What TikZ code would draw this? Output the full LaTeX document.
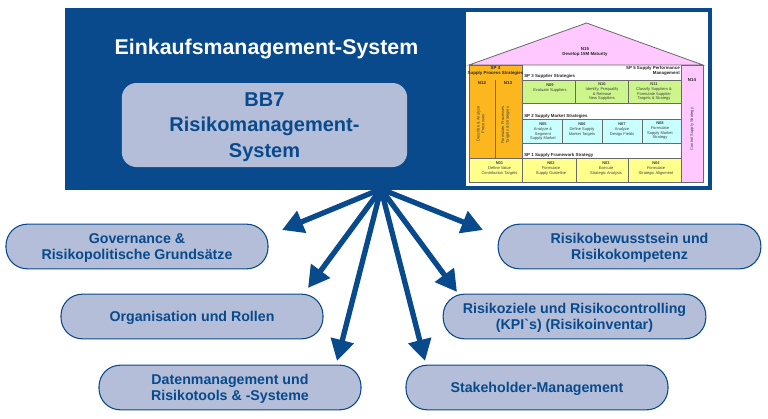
\documentclass[tikz,border=0pt]{standalone}
\usepackage{fontspec}
\setmainfont{Liberation Sans}
\newfontfamily\rawfont{Liberation Sans}
\usetikzlibrary{arrows.meta}
\definecolor{bbblue}{RGB}{8,74,140}
\definecolor{bboval}{RGB}{180,190,216}
\definecolor{hsorange}{RGB}{253,183,30}
\definecolor{hspink}{RGB}{255,200,255}
\definecolor{hsgreen}{RGB}{204,245,140}
\definecolor{hscyan}{RGB}{200,255,255}
\definecolor{hsyellow}{RGB}{255,255,140}
\definecolor{hsline}{RGB}{105,105,105}
\tikzset{
  pill/.style={draw=bbblue,line width=0.8pt,fill=bboval,rounded corners=16pt,text=bbblue,text depth=0pt,
    font=\fontsize{10.65}{12.5}\selectfont\bfseries,align=center,inner sep=0pt},
  spoke/.style={draw=bbblue,line width=4pt,-{Triangle[width=17pt,length=16pt]}},
  cell/.style={draw=hsline,line width=0.6pt},
  tinytxt/.style={font=\fontsize{3}{3.5}\selectfont,align=center,inner sep=0pt,text=black!75},
  tinyhead/.style={font=\fontsize{3.3}{3.7}\selectfont\bfseries,align=center,inner sep=0pt,text=black!85}
}
\begin{document}
\begin{tikzpicture}[x=0.75pt,y=0.75pt,yscale=-1,xscale=1]
        \useasboundingbox (0,0) rectangle (768,418);
        % Banner
        \fill [bbblue] (64.5,7.5) rectangle (712,189.5);
        \fill [white] (466,12) rectangle (708,186);
        % House
        \draw [cell,fill=hspink] (469,65) -- (586.5,23) -- (703,65) -- cycle;
        \draw [cell,fill=hspink] (681,65) rectangle (703,182);
        \draw [cell,fill=hsorange] (469,65) rectangle (522,158);
        \draw [cell] (495,80) -- (495,158);
        \draw [cell,fill=hsgreen] (522,80) rectangle (575,103);
        \draw [cell,fill=hsgreen] (575,80) rectangle (628,103);
        \draw [cell,fill=hsgreen] (628,80) rectangle (681,103);
        \draw [cell,fill=hscyan] (522,119) rectangle (562,143);
        \draw [cell,fill=hscyan] (562,119) rectangle (602,143);
        \draw [cell,fill=hscyan] (602,119) rectangle (642,143);
        \draw [cell,fill=hscyan] (642,119) rectangle (681,143);
        \draw [cell,fill=hsyellow] (469,158) rectangle (522,182);
        \draw [cell,fill=hsyellow] (522,158) rectangle (576,182);
        \draw [cell,fill=hsyellow] (576,158) rectangle (628,182);
        \draw [cell,fill=hsyellow] (628,158) rectangle (681,182);
        % House texts
        \node (n15) at (585,51.5) [tinyhead] {N15\\[0pt]Develop 15M Maturity};
        \node (sp4) at (495.5,71) [tinyhead] {SP 4\\Supply Process Strategies};
        \node (sp5) at (680,71) [tinyhead,anchor=east,align=right] {SP 5 Supply Performance\\Management};
        \node (sp3) at (524,76.5) [tinyhead,anchor=west] {SP 3 Supplier Strategies};
        \node (sp2) at (524,116) [tinyhead,anchor=west] {SP 2 Supply Market Strategies};
        \node (sp1) at (524,155) [tinyhead,anchor=west] {SP 1 Supply Framework Strategy};
        \node (n12) at (482,83) [tinyhead] {N12};
        \node (n13) at (508,83) [tinyhead] {N13};
        \node (n14) at (692,80) [tinyhead] {N14};
        \node (n12t) at (480.5,124) [tinytxt,rotate=90] {Describe \& Analyze\\Processes};
        \node (n13t) at (505.5,125) [tinytxt,rotate=90] {Formulate Processes\\Targets \& Strategies};
        \node (n14t) at (692,129) [tinytxt,rotate=90] {Control Supply Strategy};
        \node (n09) at (550,88) [tinytxt] {\textbf{N09}\\Evaluate Suppliers};
        \node (n10) at (602,92) [tinytxt] {\textbf{N10}\\Identify, Prequalify\\\& Release\\New Suppliers};
        \node (n11) at (654,92) [tinytxt] {\textbf{N11}\\Classify Suppliers \&\\Formulate Supplier\\Targets \& Strategy};
        \node (n05) at (543,132) [tinytxt] {\textbf{N05}\\Analyze \&\\Segment\\Supply Market};
        \node (n06) at (582,129.5) [tinytxt] {\textbf{N06}\\Define Supply\\Market Targets};
        \node (n07) at (622,129.5) [tinytxt] {\textbf{N07}\\Analyze\\Design Fields};
        \node (n08) at (660,131) [tinytxt] {\textbf{N08}\\Formulate\\Supply Market\\Strategy};
        \node (n01) at (499.5,168.5) [tinytxt] {\textbf{N01}\\Define Value\\Contribution Targets};
        \node (n02) at (551,168.5) [tinytxt] {\textbf{N02}\\Formulate\\Supply Guideline};
        \node (n03) at (606,168.5) [tinytxt] {\textbf{N03}\\Execute\\Strategic Analysis};
        \node (n04) at (656,168.5) [tinytxt] {\textbf{N04}\\Formulate\\Strategic Alignment};
        % Title and BB7
        \node (title) at (266.5,49) [text=white,font=\fontsize{16}{19}\selectfont\bfseries] {Einkaufsmanagement-System};
        \node (bb7) at (264.5,125) [pill,draw=none,rounded corners=11pt,minimum width=214pt,minimum height=63pt,
          font=\fontsize{15}{19}\selectfont\bfseries] {BB7\\Risikomanagement-\\System};
        % Pills
        \node (gov) at (137,246.5) [pill,minimum width=196.5pt,minimum height=33.5pt] {Governance \&\\Risikopolitische Grundsätze};
        \node (org) at (192,316.5) [pill,minimum width=196.5pt,minimum height=33.5pt] {Organisation und Rollen};
        \node (dat) at (230,387.5) [pill,minimum width=196.5pt,minimum height=33.5pt] {Datenmanagement und\\Risikotools \& -Systeme};
        \node (bew) at (629.5,246.5) [pill,minimum width=197pt,minimum height=33.5pt] {Risikobewusstsein und\\Risikokompetenz};
        \node (zie) at (574.5,316.5) [pill,minimum width=197pt,minimum height=33.5pt] {Risikoziele und Risikocontrolling\\(KPI{\rawfont\bfseries\symbol{96}}s) (Risikoinventar)};
        \node (sta) at (537,387.5) [pill,minimum width=196.5pt,minimum height=33.5pt] {Stakeholder-Management};
        % Spokes
        \coordinate (hub) at (381,189);
        \coordinate (togov) at (282,230);
        \coordinate (toorg) at (308,288);
        \coordinate (todat) at (337,361);
        \coordinate (tosta) at (425,361);
        \coordinate (tozie) at (457,292);
        \coordinate (tobew) at (483,230);
        \draw [spoke] (hub) -- (togov);
        \draw [spoke] (hub) -- (toorg);
        \draw [spoke] (hub) -- (todat);
        \draw [spoke] (hub) -- (tosta);
        \draw [spoke] (hub) -- (tozie);
        \draw [spoke] (hub) -- (tobew);
\end{tikzpicture}
\end{document}
